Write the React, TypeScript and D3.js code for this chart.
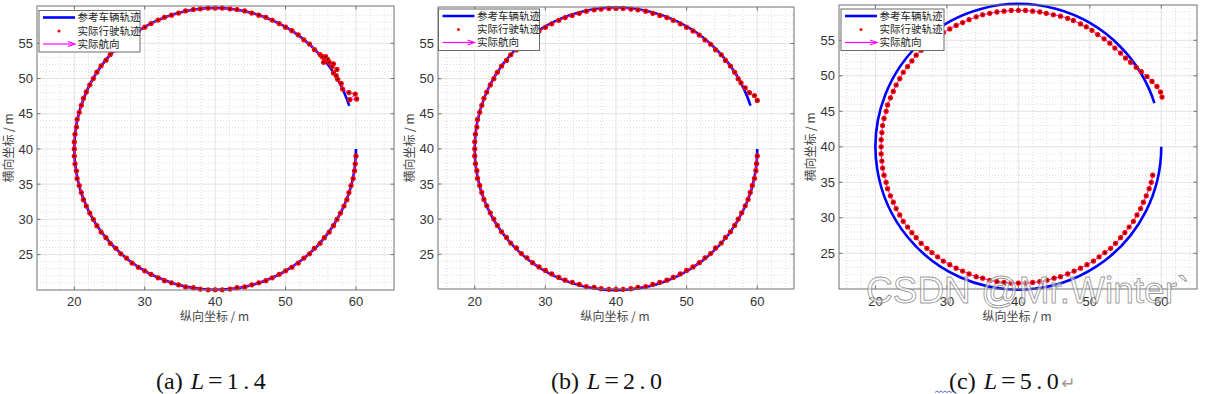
import React from 'react';
import * as d3 from 'd3';

// reference path: circle arc, starts at angle 0 and runs clockwise to refEndDeg
const refCenter = [40, 40];
const refRadius = 20;
const refEndDeg = 17.8;

const xTicks = [20, 30, 40, 50, 60];
const yTicks = [25, 30, 35, 40, 45, 50, 55];

// actual track points lying on the reference circle (shared by (a) and (b))
const ringX = [
  60.0, 59.9, 59.8, 59.6, 59.3, 59.0, 58.7, 58.3, 57.8, 57.3, 56.8, 56.2, 55.5, 54.9, 54.1, 53.4, 52.6, 51.8, 50.9, 50.0, 49.1, 48.1, 47.2, 46.2, 45.2, 44.2, 43.1, 42.1, 41.0, 40.0,
  39.0, 37.9, 36.9, 35.8, 34.8, 33.8, 32.8, 31.9, 30.9, 30.0, 29.1, 28.2, 27.4, 26.6, 25.9, 25.1, 24.5, 23.8, 23.2, 22.7, 22.2, 21.7, 21.3, 21.0, 20.7, 20.4, 20.3, 20.1, 20.0, 20.0,
  20.0, 20.1, 20.3, 20.4, 20.7, 21.0, 21.3, 21.7, 22.2, 22.7, 23.2, 23.8, 24.5, 25.1, 25.9, 26.6, 27.4, 28.2, 29.1, 30.0, 30.9, 31.9, 32.8, 33.8, 34.8, 35.8, 36.9, 37.9, 39.0, 40.0,
  41.0, 42.1, 43.1, 44.2, 45.2, 46.2, 47.2, 48.1, 49.1, 50.0, 50.9, 51.8, 52.6, 53.4, 54.1, 54.9, 55.5, 56.2, 56.8, 57.3,
];
const ringY = [
  39.0, 37.9, 36.9, 35.8, 34.8, 33.8, 32.8, 31.9, 30.9, 30.0, 29.1, 28.2, 27.4, 26.6, 25.9, 25.1, 24.5, 23.8, 23.2, 22.7, 22.2, 21.7, 21.3, 21.0, 20.7, 20.4, 20.3, 20.1, 20.0, 20.0,
  20.0, 20.1, 20.3, 20.4, 20.7, 21.0, 21.3, 21.7, 22.2, 22.7, 23.2, 23.8, 24.5, 25.1, 25.9, 26.6, 27.4, 28.2, 29.1, 30.0, 30.9, 31.9, 32.8, 33.8, 34.8, 35.8, 36.9, 37.9, 39.0, 40.0,
  41.0, 42.1, 43.1, 44.2, 45.2, 46.2, 47.2, 48.1, 49.1, 50.0, 50.9, 51.8, 52.6, 53.4, 54.1, 54.9, 55.5, 56.2, 56.8, 57.3, 57.8, 58.3, 58.7, 59.0, 59.3, 59.6, 59.8, 59.9, 60.0, 60.0,
  60.0, 59.9, 59.8, 59.6, 59.3, 59.0, 58.7, 58.3, 57.8, 57.3, 56.8, 56.2, 55.5, 54.9, 54.1, 53.4, 52.6, 51.8, 50.9, 50.0,
];

// (a) L=1.4: oscillating end
const tailAX = [55.2, 55.6, 55.4, 56.0, 56.2, 55.7, 56.8, 56.6, 57.3, 56.8, 57.2, 57.4, 57.9, 58.1, 59.0, 59.9, 59.1, 60.1];
const tailAY = [53.1, 52.9, 52.3, 52.7, 52.3, 53.1, 52.1, 51.7, 51.3, 50.8, 50.4, 49.9, 49.3, 48.5, 48.0, 47.8, 47.0, 47.1];

// (b) L=2.0: drifts outward at the end
const tailBX = [57.7, 58.3, 58.9, 59.6, 60.0];
const tailBY = [49.4, 48.7, 48.0, 47.6, 46.9];

// (c) L=5.0: cuts inside the circle
const trackCX = [
  58.8, 58.6, 58.3, 57.9, 57.5, 57.1, 56.6, 56.1, 55.5, 54.9, 54.3, 53.6, 52.9, 52.1, 51.3, 50.5, 49.6, 48.7, 47.8, 46.9, 45.9, 45.0, 44.0, 43.0, 42.0, 41.0, 40.0,
  39.0, 38.0, 37.0, 36.0, 35.0, 34.1, 33.1, 32.2, 31.3, 30.4, 29.5, 28.7, 27.9, 27.2, 26.4, 25.7, 25.1, 24.5, 23.9, 23.4, 22.9, 22.5, 22.1, 21.7, 21.5, 21.2, 21.0, 20.9, 20.8, 20.8,
  20.8, 20.9, 21.0, 21.2, 21.5, 21.7, 22.1, 22.5, 22.9, 23.4, 23.9, 24.5, 25.1, 25.7, 26.4, 27.2, 27.9, 28.7, 29.5, 30.4, 31.3, 32.2, 33.1, 34.1, 35.0, 36.0, 37.0, 38.0, 39.0, 40.0,
  41.0, 42.0, 43.0, 43.9, 44.9, 45.9, 46.9, 47.7, 48.7, 49.5, 50.3, 51.1, 52.0, 52.8, 53.5, 54.3, 55.0, 55.7, 56.5, 57.2, 58.0, 58.7, 59.4, 59.9, 60.1,
];
const trackCY = [
  36.0, 35.0, 34.1, 33.1, 32.2, 31.3, 30.4, 29.5, 28.7, 27.9, 27.2, 26.4, 25.7, 25.1, 24.5, 23.9, 23.4, 22.9, 22.5, 22.1, 21.7, 21.5, 21.2, 21.0, 20.9, 20.8, 20.8,
  20.8, 20.9, 21.0, 21.2, 21.5, 21.7, 22.1, 22.5, 22.9, 23.4, 23.9, 24.5, 25.1, 25.7, 26.4, 27.2, 27.9, 28.7, 29.5, 30.4, 31.3, 32.2, 33.1, 34.1, 35.0, 36.0, 37.0, 38.0, 39.0, 40.0,
  41.0, 42.0, 43.0, 44.0, 45.0, 45.9, 46.9, 47.8, 48.7, 49.6, 50.5, 51.3, 52.1, 52.9, 53.6, 54.3, 54.9, 55.5, 56.1, 56.6, 57.1, 57.5, 57.9, 58.3, 58.6, 58.8, 59.0, 59.1, 59.2, 59.2,
  59.2, 59.1, 59.0, 58.8, 58.6, 58.4, 58.1, 57.8, 57.3, 56.9, 56.4, 55.8, 55.2, 54.6, 53.9, 53.2, 52.5, 51.9, 51.2, 50.6, 49.9, 49.2, 48.5, 47.7, 47.0,
];

const captionTags = ['(a)', '(b)', '(c)'];
const captionValues = ['1.4', '2.0', '5.0'];
const legendLabels = ['参考车辆轨迹', '实际行驶轨迹', '实际航向'];

const panels = [
  {
    box: [37, 394, 6, 290], xDom: [14.7, 65.4], yDom: [19.97, 60.3],
    xs: ringX.slice(0, 106).concat(tailAX), ys: ringY.slice(0, 106).concat(tailAY),
    legend: [39, 10.5, 101], capX: 156, yLabelX: 9,
  },
  {
    box: [438, 794, 7, 289], xDom: [14.8, 65.2], yDom: [20.05, 60.2],
    xs: ringX.concat(tailBX), ys: ringY.concat(tailBY),
    legend: [438.5, 9, 101], capX: 551, yLabelX: 410,
  },
  {
    box: [839, 1197, 5, 289], xDom: [14.9, 65.0], yDom: [19.97, 59.97],
    xs: trackCX, ys: trackCY,
    legend: [841, 9, 103], capX: 949, yLabelX: 811,
  },
];

const axisColor = '#707070';
const textColor = '#333';
const cjk = '"Noto Sans CJK SC", "Noto Sans", sans-serif';

function Panel({ p }: { p: any }) {
  const [bx0, bx1, by0, by1] = p.box;
  const x = d3.scaleLinear().domain(p.xDom).range([bx0, bx1]);
  const y = d3.scaleLinear().domain(p.yDom).range([by1, by0]);

  const xMinor = d3.range(16, 65, 2).filter((v) => v % 10 !== 0);
  const yMinor = d3.range(20, 61, 1).filter((v) => v % 5 !== 0);

  // reference arc through the scales
  const cx = x(refCenter[0]);
  const cy = y(refCenter[1]);
  const rPx = x(refCenter[0] + refRadius) - cx;
  const arc = d3.path();
  arc.arc(cx, cy, rPx, 0, ((360 - refEndDeg) * Math.PI) / 180, false);

  const pts = p.xs.map((v: number, i: number) => [x(v), y(p.ys[i])]);

  const [lx, ly, lw] = p.legend;
  const lh = 41.5;
  const rows = [ly + 7, ly + 20.5, ly + 33.5];
  const tickLen = 3.5;

  return (
    <g>
      <rect x={bx0} y={by0} width={bx1 - bx0} height={by1 - by0} fill="#fff" />
      {/* minor grid */}
      {xMinor.map((v) => (
        <line key={'xm' + v} x1={x(v)} x2={x(v)} y1={by0} y2={by1} stroke="#d6d6d6" strokeWidth={0.8} strokeDasharray="1,2" />
      ))}
      {yMinor.map((v) => (
        <line key={'ym' + v} x1={bx0} x2={bx1} y1={y(v)} y2={y(v)} stroke="#d6d6d6" strokeWidth={0.8} strokeDasharray="1,2" />
      ))}
      {/* major grid */}
      {xTicks.map((v) => (
        <line key={'xg' + v} x1={x(v)} x2={x(v)} y1={by0} y2={by1} stroke="#e2e2e2" strokeWidth={1} />
      ))}
      {yTicks.map((v) => (
        <line key={'yg' + v} x1={bx0} x2={bx1} y1={y(v)} y2={y(v)} stroke="#e2e2e2" strokeWidth={1} />
      ))}

      <path d={arc.toString()} fill="none" stroke="#0000ff" strokeWidth={2.6} />

      {/* heading arrows */}
      {pts.slice(0, -1).map((q: number[], i: number) => {
        const n = pts[i + 1];
        return (
          <line key={'h' + i} x1={q[0]} y1={q[1]} x2={q[0] + (n[0] - q[0]) * 0.85} y2={q[1] + (n[1] - q[1]) * 0.85}
            stroke="#ff00ff" strokeWidth={1} />
        );
      })}
      {pts.map((q: number[], i: number) => (
        <g key={'d' + i}>
          <circle cx={q[0]} cy={q[1]} r={2.6} fill="#ff0000" />
          <circle cx={q[0]} cy={q[1]} r={0.9} fill="#200000" />
        </g>
      ))}

      {/* box and ticks */}
      <rect x={bx0} y={by0} width={bx1 - bx0} height={by1 - by0} fill="none" stroke={axisColor} strokeWidth={1} />
      {xTicks.map((v) => (
        <g key={'xt' + v}>
          <line x1={x(v)} x2={x(v)} y1={by1} y2={by1 - tickLen} stroke={axisColor} />
          <line x1={x(v)} x2={x(v)} y1={by0} y2={by0 + tickLen} stroke={axisColor} />
          <text x={x(v)} y={306} textAnchor="middle" fontSize={13} fontFamily="Liberation Sans, Arial, sans-serif" fill={textColor}>{v}</text>
        </g>
      ))}
      {yTicks.map((v) => (
        <g key={'yt' + v}>
          <line x1={bx0} x2={bx0 + tickLen} y1={y(v)} y2={y(v)} stroke={axisColor} />
          <line x1={bx1} x2={bx1 - tickLen} y1={y(v)} y2={y(v)} stroke={axisColor} />
          <text x={bx0 - 4} y={y(v) + 4.6} textAnchor="end" fontSize={13} fontFamily="Liberation Sans, Arial, sans-serif" fill={textColor}>{v}</text>
        </g>
      ))}

      {/* axis labels */}
      <text x={(bx0 + bx1) / 2 - 1} y={320.5} textAnchor="middle" fontSize={12} fontFamily={cjk} fill="#444">纵向坐标 / m</text>
      <text transform={`translate(${p.yLabelX + 4},${(by0 + by1) / 2}) rotate(-90)`} textAnchor="middle" fontSize={12} fontFamily={cjk} fill="#444">横向坐标 / m</text>

      {/* legend */}
      <rect x={lx} y={ly} width={lw} height={lh} fill="#fff" stroke="#6a6a6a" strokeWidth={1} />
      <line x1={lx + 4} x2={lx + 36} y1={rows[0]} y2={rows[0]} stroke="#0000ff" strokeWidth={2.6} />
      <circle cx={lx + 20} cy={rows[1]} r={1.5} fill="#ff0000" />
      <line x1={lx + 4} x2={lx + 35} y1={rows[2]} y2={rows[2]} stroke="#ff00ff" strokeWidth={1.2} />
      <path d={`M${lx + 29},${rows[2] - 2.5} L${lx + 36},${rows[2]} L${lx + 29},${rows[2] + 2.5}`} fill="none" stroke="#ff00ff" strokeWidth={1.2} />
      {legendLabels.map((t, i) => (
        <text key={t} x={lx + 38.5} y={rows[i] + 3.8} fontSize={10.5} fontFamily={cjk} fill="#222">{t}</text>
      ))}
    </g>
  );
}

export default function App() {
  return (
    <svg width={1205} height={394} style={{ position: 'absolute', left: 0, top: 0, background: '#fff' }}>
      {panels.map((p, i) => (
        <Panel key={i} p={p} />
      ))}

      {/* captions */}
      {panels.map((p, i) => (
        <text key={'c' + i} x={p.capX} y={389} fontSize={24} fontFamily="Liberation Serif, serif" fill="#111">
          <tspan>{captionTags[i]} </tspan>
          <tspan fontStyle="italic" dx={2}>L</tspan>
          <tspan dx={4} fontSize={26}>=</tspan>
          <tspan dx={4} letterSpacing={4.5}>{captionValues[i]}</tspan>
          {i === 2 ? <tspan dx={-2} fontSize={17} fontFamily="DejaVu Sans, sans-serif" fill="#999">↵</tspan> : null}
        </text>
      ))}
      <path d="M935,392.5 l2,-1.5 l2,1.5 l2,-1.5 l2,1.5 l2,-1.5 l2,1.5 l2,-1.5 l2,1.5 l2,-1.5 l2,1.5" fill="none" stroke="#3050e0" strokeWidth={0.8} />

      {/* watermark */}
      <text x={866} y={303} fontSize={37} fontFamily="Liberation Sans, Arial, sans-serif" fill="#ffffff" fillOpacity={0.55}
        stroke="#777" strokeOpacity={0.75} strokeWidth={0.9}>CSDN @Mr.Winter`</text>
    </svg>
  );
}
